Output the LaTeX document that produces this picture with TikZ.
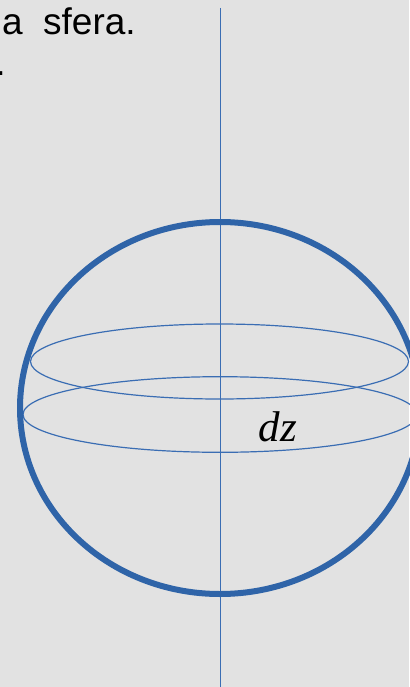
\documentclass[tikz,border=0pt]{standalone}
\usepackage{fontspec}
\setmainfont{Liberation Serif}
\newfontfamily\sansfont{Liberation Sans}
\definecolor{sferablue}{HTML}{2F64A8}
\definecolor{lineblue}{HTML}{3A6DB3}
\definecolor{bggray}{HTML}{E2E2E2}
\begin{document}
\begin{tikzpicture}[x=1pt,y=-1pt,line width=1.2pt]
\fill[bggray] (0,0) rectangle (409,687);
\useasboundingbox (0,0) rectangle (409,687);
\coordinate (o) at (220,408); \coordinate (top) at (220,8); \coordinate (bot) at (220,687);
\coordinate (u) at (219.5,361.5); \coordinate (l) at (220,414.5);
\draw[lineblue,line width=1pt] (top)--(bot);
\draw[lineblue] (u) ellipse [x radius=189,y radius=37.5];
\draw[lineblue] (l) ellipse [x radius=197,y radius=37.8];
\draw[sferablue,line width=6pt] (o) ellipse [x radius=200,y radius=186];
\node[anchor=base west,inner sep=0pt,font=\sansfont\fontsize{37}{37}\selectfont] (txt) at (1.5,35) {a\ \ sfera.};
\node[anchor=base west,inner sep=0pt,font=\sansfont\fontsize{36}{36}\selectfont] (dot) at (-5,76) {.};
\node[anchor=base west,inner sep=0pt,font=\itshape\fontsize{43}{43}\selectfont] (dz) at (258,441) {dz};
\end{tikzpicture}
\end{document}
